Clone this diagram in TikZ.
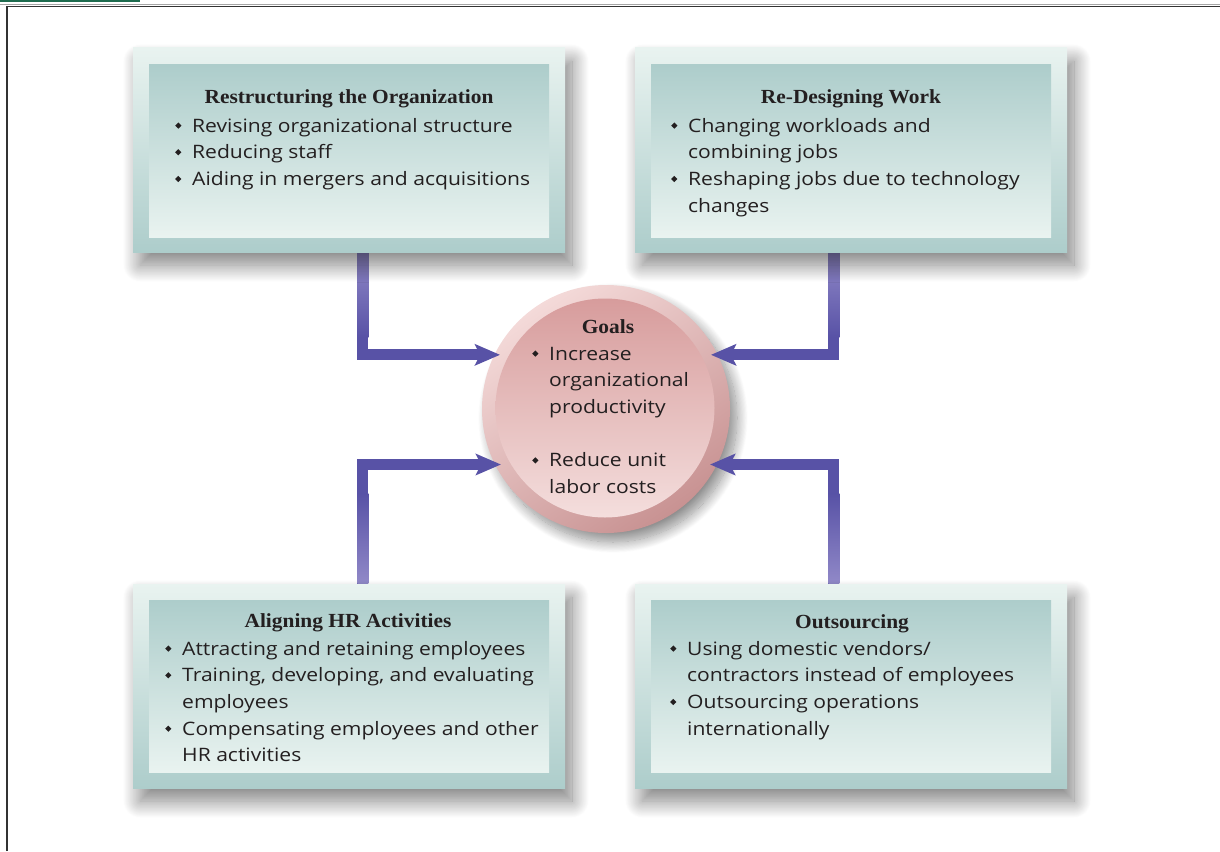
\documentclass[tikz,border=0pt]{standalone}
\usepackage{fontspec}
\setmainfont{Open Sans}[FakeStretch=1.14]
\newfontfamily\titlefont{Liberation Serif}[FakeStretch=1.07]
\usetikzlibrary{arrows.meta,shadows.blur,calc}
\definecolor{tealD}{RGB}{173,205,203}
\definecolor{tealL}{RGB}{233,243,240}
\definecolor{purp}{RGB}{88,82,166}
\definecolor{purpL}{RGB}{145,137,200}
\definecolor{pinkT}{RGB}{215,156,156}
\definecolor{pinkB}{RGB}{244,222,221}
\definecolor{ringL}{RGB}{244,218,217}
\definecolor{ringD}{RGB}{200,146,146}
\definecolor{txt}{RGB}{35,31,32}
\definecolor{bargreen}{RGB}{30,107,78}
\newcommand\gbul{\makebox[17pt][l]{\raisebox{3.3pt}{\rotatebox{45}{\rule{4.4pt}{4.4pt}}}}}
\newcommand\gind{\hspace*{17pt}}
\pgfdeclarelayer{fg}
\pgfsetlayers{main,fg}
\tikzset{
  outerbox/.style={rectangle, minimum width=432pt, minimum height=204pt, inner sep=0pt,
    top color=tealL, bottom color=tealD,
    blur shadow={shadow xshift=7pt, shadow yshift=-13pt, shadow blur radius=17pt, shadow blur steps=24, shadow opacity=50}},
  innerbox/.style={rectangle, minimum width=400pt, minimum height=172pt, inner sep=0pt,
    top color=tealD, bottom color=tealL},
  ttl/.style={font=\titlefont\bfseries\fontsize{20}{24}\selectfont, text=txt, inner sep=0pt, anchor=base},
  body/.style={font=\fontsize{18.5}{26.7}\selectfont, text=txt, align=left, inner sep=0pt, anchor=base west},
  conn/.style={line width=11pt, draw=purp, -{Stealth[length=25pt,width=21pt,inset=5pt]}},
}
\begin{document}
\begin{tikzpicture}[x=1pt,y=-1pt]
\useasboundingbox (0,0) rectangle (1220,851);
% frame
\fill[bargreen] (0,0) rectangle (140,2.5);
\draw[line width=1pt, black!35] (0,4.8) -- (1220,4.8);
\draw[line width=1.6pt, black!80] (7,851) -- (7,6.5) -- (1220,6.5);
% goal circle
\node[circle, minimum size=248pt, inner sep=0pt, top color=ringL, bottom color=ringD, shading angle=35,
  blur shadow={shadow xshift=7pt, shadow yshift=-9pt, shadow blur radius=11pt, shadow blur steps=20, shadow opacity=45}] (ring) at (606,409) {};
\node[circle, minimum size=219pt, inner sep=0pt, top color=pinkT, bottom color=pinkB] (goal) at (605,408) {};
\node[ttl] (goalt) at (608,333) {Goals};
% base anchor of a multi-line node = baseline of its last line
\node[body] (goalb) at (532,493.5) {\gbul Increase\\\gind organizational\\\gind productivity\\[26.7pt]\gbul Reduce unit\\\gind labor costs};
% boxes
\begin{pgfonlayer}{fg}
\node[outerbox] (tl) at (349,150) {};
\node[innerbox] (tli) at (349,151) {};
\node[outerbox] (tr) at (851,150) {};
\node[innerbox] (tri) at (851,151) {};
\node[outerbox] (bl) at (349,686) {};
\node[innerbox] (bli) at (349,686) {};
\node[outerbox] (br) at (851,686) {};
\node[innerbox] (bri) at (851,686) {};
\node[ttl] (tlt) at (349,103) {Restructuring the Organization};
\node[body] (tlb) at (175,185.4) {\gbul Revising organizational structure\\\gbul Reducing staff\\\gbul Aiding in mergers and acquisitions};
\node[ttl] (trt) at (851,103) {Re-Designing Work};
\node[body] (trb) at (671,212.1) {\gbul Changing workloads and\\\gind combining jobs\\\gbul Reshaping jobs due to technology\\\gind changes};
\node[ttl] (blt) at (348,627) {Aligning HR Activities};
\node[body] (blb) at (165,761.8) {\gbul Attracting and retaining employees\\\gbul Training, developing, and evaluating\\\gind employees\\\gbul Compensating employees and other\\\gind HR activities};
\node[ttl] (brt) at (852,628) {Outsourcing};
\node[body] (brb) at (670,735.1) {\gbul Using domestic vendors/\\\gind contractors instead of employees\\\gbul Outsourcing operations\\\gind internationally};
\end{pgfonlayer}
% connectors
\draw[conn, shorten >=9pt] ($(tl.south west)+(230,0)$) |- (goal.151);
\draw[conn, shorten >=10pt] ($(tr.south west)+(199,0)$) |- (goal.29);
\draw[conn, shorten >=10pt] ($(bl.north west)+(230,0)$) |- (goal.211);
\draw[conn, shorten >=11pt] ($(br.north west)+(199,0)$) |- (goal.-31);
% light sheen on vertical parts
\shade[top color=purpL, bottom color=purp] ($(tl.south west)+(224.5,0)$) rectangle ($(tl.south west)+(235.5,85)$);
\shade[top color=purpL, bottom color=purp] ($(tr.south west)+(193.5,0)$) rectangle ($(tr.south west)+(204.5,85)$);
\shade[top color=purp, bottom color=purpL] ($(bl.north west)+(224.5,-90)$) rectangle ($(bl.north west)+(235.5,0)$);
\shade[top color=purp, bottom color=purpL] ($(br.north west)+(193.5,-90)$) rectangle ($(br.north west)+(204.5,0)$);
\end{tikzpicture}
\end{document}
